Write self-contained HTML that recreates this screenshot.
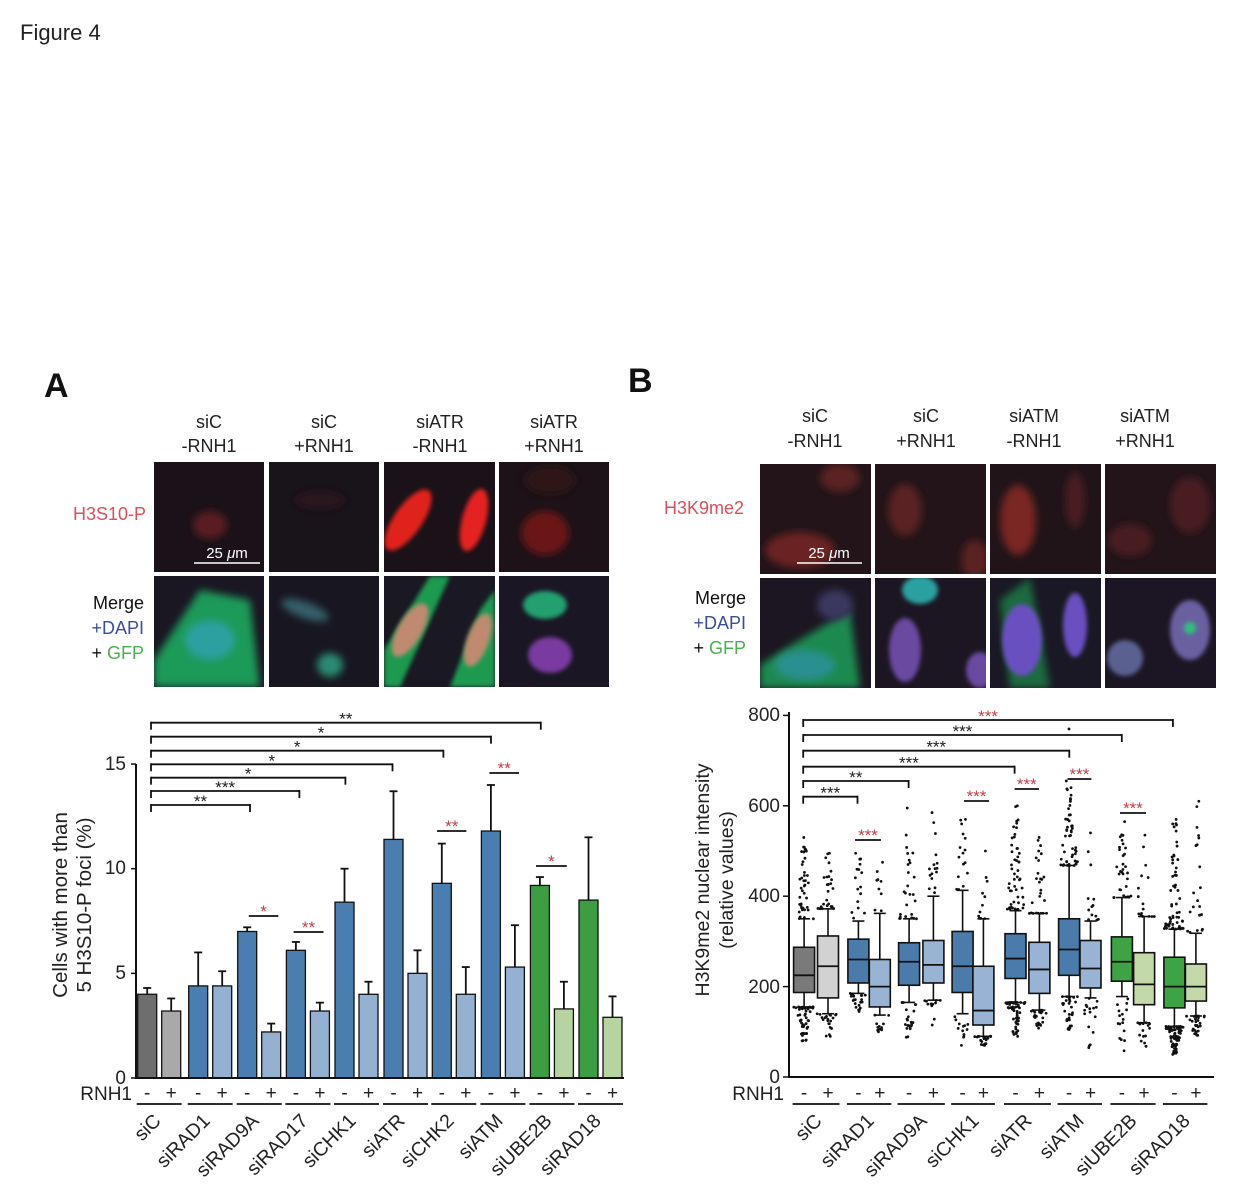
<!DOCTYPE html>
<html><head><meta charset="utf-8">
<style>
html,body{margin:0;padding:0;background:#fff;}
svg{display:block;font-family:"Liberation Sans",Arial,sans-serif;}
</style></head>
<body>
<svg id="s" width="1240" height="1199" viewBox="0 0 1240 1199" xmlns="http://www.w3.org/2000/svg">
<defs>
<filter id="bl" x="-50%" y="-50%" width="200%" height="200%"><feGaussianBlur stdDeviation="4"/></filter>
<filter id="bl2" x="-50%" y="-50%" width="200%" height="200%"><feGaussianBlur stdDeviation="2"/></filter>
<clipPath id="c1"><rect x="154" y="462" width="110" height="110"/></clipPath>
<clipPath id="c2"><rect x="269" y="462" width="110" height="110"/></clipPath>
<clipPath id="c3"><rect x="384" y="462" width="111" height="110"/></clipPath>
<clipPath id="c4"><rect x="499" y="462" width="110" height="110"/></clipPath>
<clipPath id="c5"><rect x="154" y="576" width="110" height="111"/></clipPath>
<clipPath id="c6"><rect x="269" y="576" width="110" height="111"/></clipPath>
<clipPath id="c7"><rect x="384" y="576" width="111" height="111"/></clipPath>
<clipPath id="c8"><rect x="499" y="576" width="110" height="111"/></clipPath>
<clipPath id="d1"><rect x="760" y="464" width="111" height="110"/></clipPath>
<clipPath id="d2"><rect x="875" y="464" width="111" height="110"/></clipPath>
<clipPath id="d3"><rect x="990" y="464" width="111" height="110"/></clipPath>
<clipPath id="d4"><rect x="1105" y="464" width="111" height="110"/></clipPath>
<clipPath id="d5"><rect x="760" y="578" width="111" height="110"/></clipPath>
<clipPath id="d6"><rect x="875" y="578" width="111" height="110"/></clipPath>
<clipPath id="d7"><rect x="990" y="578" width="111" height="110"/></clipPath>
<clipPath id="d8"><rect x="1105" y="578" width="111" height="110"/></clipPath>
</defs>

<text x="20" y="40" font-size="22" fill="#222">Figure 4</text>
<text x="44" y="397" font-size="34" font-weight="bold" fill="#111">A</text>
<text x="628" y="392" font-size="34" font-weight="bold" fill="#111">B</text>

<g font-size="18" fill="#222" text-anchor="middle">
<text x="209" y="428">siC</text><text x="209" y="452">-RNH1</text>
<text x="324" y="428">siC</text><text x="324" y="452">+RNH1</text>
<text x="440" y="428">siATR</text><text x="440" y="452">-RNH1</text>
<text x="554" y="428">siATR</text><text x="554" y="452">+RNH1</text>
</g>
<g font-size="18" text-anchor="end">
<text x="146" y="520" fill="#d9505a">H3S10-P</text>
<text x="144" y="609" fill="#111">Merge</text>
<text x="144" y="634" fill="#3a4f9a">+DAPI</text>
<text x="144" y="659"><tspan fill="#111">+ </tspan><tspan fill="#4caf50">GFP</tspan></text>
</g>
<g>
<rect x="154" y="462" width="110" height="110" fill="#1a1218"/>
<rect x="269" y="462" width="110" height="110" fill="#19131a"/>
<rect x="384" y="462" width="111" height="110" fill="#1a1218"/>
<rect x="499" y="462" width="110" height="110" fill="#1c1218"/>
<rect x="154" y="576" width="110" height="111" fill="#1a1622"/>
<rect x="269" y="576" width="110" height="111" fill="#181620"/>
<rect x="384" y="576" width="111" height="111" fill="#1a1822"/>
<rect x="499" y="576" width="110" height="111" fill="#1a1624"/>
<g clip-path="url(#c1)"><ellipse cx="210" cy="525" rx="17" ry="14" fill="#5a1a20" filter="url(#bl)"/></g>
<g clip-path="url(#c2)"><ellipse cx="320" cy="500" rx="25" ry="8" fill="#2a161c" filter="url(#bl)"/></g>
<g clip-path="url(#c3)"><ellipse cx="408" cy="520" rx="14" ry="36" transform="rotate(35 408 520)" fill="#e0201c" filter="url(#bl2)"/><ellipse cx="474" cy="520" rx="12" ry="32" transform="rotate(15 474 520)" fill="#e52420" filter="url(#bl2)"/></g>
<g clip-path="url(#c4)"><ellipse cx="545" cy="533" rx="24" ry="22" fill="#6a1418" filter="url(#bl)"/><ellipse cx="550" cy="480" rx="25" ry="14" fill="#2e1618" filter="url(#bl)"/></g>
<g clip-path="url(#c5)"><path d="M154 660 L200 590 L250 600 L260 687 L154 687Z" fill="#1f9a58" filter="url(#bl)"/><ellipse cx="210" cy="640" rx="25" ry="20" fill="#2aa0a0" filter="url(#bl)"/></g>
<g clip-path="url(#c6)"><ellipse cx="305" cy="610" rx="25" ry="8" transform="rotate(20 305 610)" fill="#36606a" filter="url(#bl)"/><ellipse cx="330" cy="665" rx="13" ry="12" fill="#2a8a70" filter="url(#bl)"/></g>
<g clip-path="url(#c7)"><path d="M384 650 L430 576 L450 576 L400 687 L384 687Z" fill="#1e9a50" filter="url(#bl2)"/><path d="M450 687 L480 610 L495 590 L495 687Z" fill="#1e9a50" filter="url(#bl2)"/><ellipse cx="410" cy="630" rx="12" ry="30" transform="rotate(30 410 630)" fill="#c08a70" filter="url(#bl2)"/><ellipse cx="478" cy="640" rx="11" ry="28" transform="rotate(20 478 640)" fill="#c08a70" filter="url(#bl2)"/></g>
<g clip-path="url(#c8)"><ellipse cx="545" cy="605" rx="22" ry="14" fill="#20a070" filter="url(#bl2)"/><ellipse cx="550" cy="655" rx="22" ry="18" fill="#7a3aa0" filter="url(#bl2)"/></g>
<line x1="194" y1="563" x2="260" y2="563" stroke="#fff" stroke-width="1.5"/>
<text x="227" y="558" font-size="15" fill="#fff" text-anchor="middle">25 <tspan font-style="italic">μ</tspan>m</text>
</g>

<g font-size="18" fill="#222" text-anchor="middle">
<text x="815" y="422">siC</text><text x="815" y="447">-RNH1</text>
<text x="926" y="422">siC</text><text x="926" y="447">+RNH1</text>
<text x="1034" y="422">siATM</text><text x="1034" y="447">-RNH1</text>
<text x="1145" y="422">siATM</text><text x="1145" y="447">+RNH1</text>
</g>
<g font-size="18" text-anchor="end">
<text x="744" y="514" fill="#d9505a">H3K9me2</text>
<text x="746" y="604" fill="#111">Merge</text>
<text x="746" y="629" fill="#3a4f9a">+DAPI</text>
<text x="746" y="654"><tspan fill="#111">+ </tspan><tspan fill="#4caf50">GFP</tspan></text>
</g>
<g>
<rect x="760" y="464" width="111" height="110" fill="#221418"/>
<rect x="875" y="464" width="111" height="110" fill="#221418"/>
<rect x="990" y="464" width="111" height="110" fill="#201418"/>
<rect x="1105" y="464" width="111" height="110" fill="#221418"/>
<rect x="760" y="578" width="111" height="110" fill="#1c1622"/>
<rect x="875" y="578" width="111" height="110" fill="#1c1622"/>
<rect x="990" y="578" width="111" height="110" fill="#1a1824"/>
<rect x="1105" y="578" width="111" height="110" fill="#1c1624"/>
<g clip-path="url(#d1)"><ellipse cx="800" cy="550" rx="35" ry="18" fill="#6a2224" filter="url(#bl)"/><ellipse cx="840" cy="478" rx="20" ry="14" fill="#5a2024" filter="url(#bl)"/></g>
<g clip-path="url(#d2)"><ellipse cx="905" cy="510" rx="17" ry="26" fill="#5a2024" filter="url(#bl)"/><ellipse cx="975" cy="560" rx="14" ry="20" fill="#5a2024" filter="url(#bl)"/></g>
<g clip-path="url(#d3)"><ellipse cx="1018" cy="520" rx="18" ry="35" fill="#7a2624" filter="url(#bl)"/><ellipse cx="1075" cy="500" rx="10" ry="28" fill="#4a1c20" filter="url(#bl)"/></g>
<g clip-path="url(#d4)"><ellipse cx="1190" cy="505" rx="20" ry="28" fill="#4a1c20" filter="url(#bl)"/><ellipse cx="1130" cy="540" rx="22" ry="16" fill="#4a1c20" filter="url(#bl)"/></g>
<g clip-path="url(#d5)"><path d="M760 665 L800 640 L850 610 L860 688 L760 688Z" fill="#1f8a50" filter="url(#bl)"/><ellipse cx="805" cy="665" rx="30" ry="15" fill="#2a8f90" filter="url(#bl)"/><ellipse cx="835" cy="605" rx="18" ry="15" fill="#3a3860" filter="url(#bl)"/></g>
<g clip-path="url(#d6)"><ellipse cx="905" cy="650" rx="16" ry="32" fill="#6a48a0" filter="url(#bl2)"/><ellipse cx="920" cy="590" rx="18" ry="14" fill="#2aa0a0" filter="url(#bl2)"/><ellipse cx="980" cy="670" rx="14" ry="18" fill="#6a48a0" filter="url(#bl2)"/></g>
<g clip-path="url(#d7)"><path d="M1000 600 L1030 578 L1050 688 L1010 688Z" fill="#1f6a40" filter="url(#bl)"/><ellipse cx="1022" cy="640" rx="20" ry="36" fill="#6a50c0" filter="url(#bl2)"/><ellipse cx="1075" cy="625" rx="12" ry="32" fill="#6a50c0" filter="url(#bl2)"/></g>
<g clip-path="url(#d8)"><ellipse cx="1190" cy="630" rx="20" ry="30" fill="#6a60a0" filter="url(#bl2)"/><ellipse cx="1125" cy="658" rx="18" ry="18" fill="#5a6090" filter="url(#bl2)"/><ellipse cx="1190" cy="628" rx="6" ry="6" fill="#30c080" filter="url(#bl2)"/></g>
<line x1="797" y1="563" x2="862" y2="563" stroke="#fff" stroke-width="1.5"/>
<text x="829" y="558" font-size="15" fill="#fff" text-anchor="middle">25 <tspan font-style="italic">μ</tspan>m</text>
</g>

<g font-size="19" fill="#222" text-anchor="end">
<text x="126" y="1084">0</text><text x="126" y="979">5</text><text x="126" y="874">10</text><text x="126" y="770">15</text>
<text x="132" y="1100">RNH1</text>
</g>
<g font-size="20.5" fill="#222" text-anchor="middle">
<text transform="translate(67 905) rotate(-90)">Cells with more than</text>
<text transform="translate(91 905) rotate(-90)">5 H3S10-P foci (%)</text>
</g>
<g font-size="19.5" fill="#222" text-anchor="end">
<text transform="translate(162 1122) rotate(-45)">siC</text>
<text transform="translate(211 1122) rotate(-45)">siRAD1</text>
<text transform="translate(260 1122) rotate(-45)">siRAD9A</text>
<text transform="translate(309 1122) rotate(-45)">siRAD17</text>
<text transform="translate(357 1122) rotate(-45)">siCHK1</text>
<text transform="translate(406 1122) rotate(-45)">siATR</text>
<text transform="translate(455 1122) rotate(-45)">siCHK2</text>
<text transform="translate(504 1122) rotate(-45)">siATM</text>
<text transform="translate(553 1122) rotate(-45)">siUBE2B</text>
<text transform="translate(602 1122) rotate(-45)">siRAD18</text>
</g>

<g font-size="19" fill="#222" text-anchor="end">
<text x="780" y="1083">0</text><text x="780" y="993">200</text><text x="780" y="902">400</text><text x="780" y="812">600</text><text x="780" y="721">800</text>
<text x="784" y="1100">RNH1</text>
</g>
<g font-size="19.5" fill="#222" text-anchor="middle">
<text transform="translate(709 880) rotate(-90)">H3K9me2 nuclear intensity</text>
<text transform="translate(733 880) rotate(-90)">(relative values)</text>
</g>
<g font-size="19.5" fill="#222" text-anchor="end">
<text transform="translate(823 1122) rotate(-45)">siC</text>
<text transform="translate(875 1122) rotate(-45)">siRAD1</text>
<text transform="translate(928 1122) rotate(-45)">siRAD9A</text>
<text transform="translate(980 1122) rotate(-45)">siCHK1</text>
<text transform="translate(1033 1122) rotate(-45)">siATR</text>
<text transform="translate(1085 1122) rotate(-45)">siATM</text>
<text transform="translate(1138 1122) rotate(-45)">siUBE2B</text>
<text transform="translate(1191 1122) rotate(-45)">siRAD18</text>
</g>
<g id="dyn"></g>
</svg>
<script>
(function(){
var NS="http://www.w3.org/2000/svg",g=document.getElementById("dyn");
function el(t,a,txt){var e=document.createElementNS(NS,t);for(var k in a)e.setAttribute(k,a[k]);if(txt!=null)e.textContent=txt;g.appendChild(e);return e;}
function line(x1,y1,x2,y2,w,c){el("line",{x1:x1,y1:y1,x2:x2,y2:y2,stroke:c||"#111","stroke-width":w||1.5});}
function txt(x,y,s,c,fs){el("text",{x:x,y:y,"font-size":fs||16,fill:c||"#222","text-anchor":"middle"},s);}
function stars(x,y,s,c){txt(x,y+4,s,c,17);}
function yA(v){return 1078-v*20.93;}
var ax=[137.7,188.7,237.7,286.4,335,384,432.3,481.4,530.4,579];
var dA=[[4.0,4.3,3.2,3.8],[4.4,6.0,4.4,5.1],[7.0,7.2,2.2,2.6],[6.1,6.5,3.2,3.6],[8.4,10,4.0,4.6],[11.4,13.7,5.0,6.1],[9.3,11.2,4.0,5.3],[11.8,14.0,5.3,7.3],[9.2,9.6,3.3,4.6],[8.5,11.5,2.9,3.9]];
for(var i=0;i<10;i++){
 var c1="#4a7db0",c2="#94b1d2";
 if(i==0){c1="#6e6e6e";c2="#a9a9a9";} if(i>=8){c1="#3c9d42";c2="#b7d3a0";}
 var w=19,x=ax[i],d=dA[i];
 line(x+w/2,yA(d[1]),x+w/2,yA(d[0]),1.8); line(x+w/2-4,yA(d[1]),x+w/2+4,yA(d[1]),1.8);
 el("rect",{x:x,y:yA(d[0]),width:w,height:yA(0)-yA(d[0]),fill:c1,stroke:"#111","stroke-width":1.3});
 var x2=x+24;
 line(x2+w/2,yA(d[3]),x2+w/2,yA(d[2]),1.8); line(x2+w/2-4,yA(d[3]),x2+w/2+4,yA(d[3]),1.8);
 el("rect",{x:x2,y:yA(d[2]),width:w,height:yA(0)-yA(d[2]),fill:c2,stroke:"#111","stroke-width":1.3});
 txt(x+w/2,1099,"-","#222",19); txt(x2+w/2,1099,"+","#222",19);
 line(x-1,1104,x2+w+1,1104,1.8);
}
line(136,764,136,1079,2); line(135,1078,624,1078,2);
[0,5,10,15].forEach(function(v){line(131,yA(v),136,yA(v),1.5);});
var bA=[[722.7,540.8,"**"],[736.7,491,"*"],[750.7,443.4,"*"],[764.3,392.5,"*"],[777.7,345.4,"*"],[791,299.4,"***"],[805,250,"**"]];
bA.forEach(function(b){line(151,b[0],b[1],b[0],1.8);line(151,b[0]-1,151,b[0]+7,1.8);line(b[1],b[0]-1,b[1],b[0]+7,1.8);stars((151+b[1])/2,b[0]-2,b[2]);});
var rA=[[916,248.8,278.3,"*"],[932,293.6,323.5,"**"],[831,437,466.4,"**"],[773,489.4,519,"**"],[866,536,566.8,"*"]];
rA.forEach(function(b){line(b[1],b[0],b[2],b[0],1.8);stars((b[1]+b[2])/2,b[0]-3,b[3],"#c0404a");});
function yB(v){return 1077-v*0.452;}
var dx=[793.6,847.9,898.6,952.1,1005,1058.6,1111.4,1163.9];
var lx=[817.5,869.3,922.9,972.9,1028.9,1080,1133.6,1185.4];
var bd=[
[[187,225,287,155,350],[175,245,312,140,372]],
[[208,260,305,185,345],[155,200,260,137,362]],
[[203,255,297,165,350],[208,248,302,170,400]],
[[187,245,322,140,413],[115,147,245,90,350]],
[[218,262,317,165,368],[185,238,298,148,362]],
[[225,282,350,178,468],[197,240,302,175,345]],
[[212,255,310,178,397],[160,205,275,120,355]],
[[153,200,265,112,327],[168,200,250,135,318]]];
var od=[
[[40,530,50,80],[25,495,20,90]],
[[15,495,20,145],[8,475,10,100]],
[[25,595,20,88],[15,585,10,115]],
[[15,570,12,70],[10,500,20,70]],
[[50,600,60,90],[25,530,25,108]],
[[50,655,30,105],[12,540,15,65]],
[[30,565,15,58],[15,535,15,68]],
[[60,570,80,50],[20,610,30,92]]];
var seed=7;function rnd(){seed=(seed*16807)%2147483647;return (seed-1)/2147483646;}
function box(x,d,o,fill){
 var w=21,cx=x+w/2;
 line(cx,yB(d[4]),cx,yB(d[2]),1.6);line(cx,yB(d[0]),cx,yB(d[3]),1.6);
 line(cx-6,yB(d[4]),cx+6,yB(d[4]),1.6);line(cx-6,yB(d[3]),cx+6,yB(d[3]),1.6);
 el("rect",{x:x,y:yB(d[2]),width:w,height:yB(d[0])-yB(d[2]),fill:fill,stroke:"#111","stroke-width":1.6});
 line(x,yB(d[1]),x+w,yB(d[1]),1.8);
 for(var k=0;k<o[0];k++){var r=rnd();var v=d[4]+(o[1]-d[4])*r*r;var sp=(1-r)*9+2;el("circle",{cx:cx+(rnd()*2-1)*sp,cy:yB(v),r:1.4,fill:"#111"});}
 for(var k=0;k<o[2];k++){var r=rnd();var v=d[3]-(d[3]-o[3])*r*r;var sp=(1-r)*9+2;el("circle",{cx:cx+(rnd()*2-1)*sp,cy:yB(v),r:1.4,fill:"#111"});}
 el("circle",{cx:cx+(rnd()*2-1)*3,cy:yB(o[1]),r:1.4,fill:"#111"});
 el("circle",{cx:cx+(rnd()*2-1)*3,cy:yB(o[3]),r:1.4,fill:"#111"});
}
for(var i=0;i<8;i++){
 var c1="#4a7bab",c2="#98b3d3";
 if(i==0){c1="#7a7a7a";c2="#d2d2d2";} if(i>=6){c1="#3ea344";c2="#c3d9a9";}
 box(dx[i],bd[i][0],od[i][0],c1); box(lx[i],bd[i][1],od[i][1],c2);
 txt(dx[i]+10.5,1099,"-","#222",19); txt(lx[i]+10.5,1099,"+","#222",19);
 line(dx[i]-1,1104,lx[i]+22,1104,1.8);
}
el("circle",{cx:1069,cy:yB(770),r:1.4,fill:"#111"});
line(789,712,789,1078,2); line(788,1077,1214,1077,2);
[0,200,400,600,800].forEach(function(v){line(783,yB(v),789,yB(v),1.5);});
var bB=[[720,1172.9,"***","#c0404a"],[735,1121.8,"***"],[750.7,1069.3,"***"],[766.7,1014.6,"***"],[781,908.6,"**"],[796.7,857.5,"***"]];
bB.forEach(function(b){line(803.2,b[0],b[1],b[0],1.8);line(803.2,b[0]-1,803.2,b[0]+7,1.8);line(b[1],b[0]-1,b[1],b[0]+7,1.8);stars((803.2+b[1])/2,b[0]-2,b[2],b[3]);});
var rB=[[840,855,881],[801,964,989],[789,1014.6,1039],[779,1067.5,1091.4],[813,1120,1146]];
rB.forEach(function(b){line(b[1],b[0],b[2],b[0],1.8);stars((b[1]+b[2])/2,b[0]-3,"***","#c0404a");});
})();
</script>
</body></html>
